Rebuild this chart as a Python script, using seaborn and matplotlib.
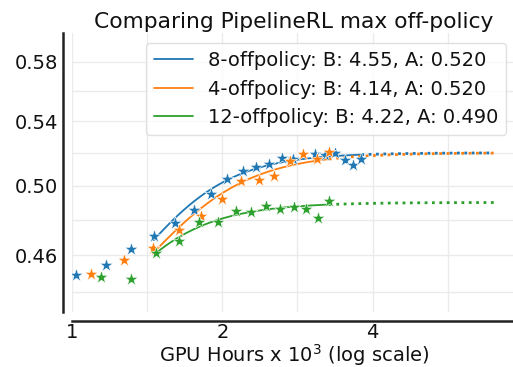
import numpy as np
import pandas as pd
import matplotlib
matplotlib.use("Agg")
import matplotlib.pyplot as plt
from matplotlib.ticker import FixedLocator, FixedFormatter, NullFormatter
import seaborn as sns

# Measured runs: GPU hours (x 10^3) and mean reward
x_8 = [1.020, 1.168, 1.315, 1.457, 1.605, 1.752, 1.898, 2.047, 2.197, 2.340,
       2.480, 2.633, 2.771, 3.061, 3.206, 3.357, 3.515, 3.653, 3.797]
y_8 = [0.4492, 0.4549, 0.4637, 0.4708, 0.4781, 0.4855, 0.4952, 0.5039, 0.5090, 0.5112,
       0.5131, 0.5166, 0.5162, 0.5194, 0.5187, 0.5199, 0.5153, 0.5126, 0.5164]

x_4 = [1.090, 1.271, 1.451, 1.635, 1.813, 1.998, 2.183, 2.368, 2.542, 2.728,
       2.901, 3.095, 3.271]
y_4 = [0.4499, 0.4575, 0.4639, 0.4743, 0.4822, 0.4918, 0.5025, 0.5035, 0.5055, 0.5151,
       0.5192, 0.5161, 0.5203]

x_12 = [1.145, 1.311, 1.471, 1.635, 1.796, 1.960, 2.127, 2.286, 2.450, 2.613,
        2.779, 2.937, 3.109, 3.271]
y_12 = [0.4481, 0.4472, 0.4613, 0.4679, 0.4787, 0.4785, 0.4848, 0.4844, 0.4878, 0.4864,
        0.4872, 0.4862, 0.4810, 0.4910]

# Sigmoidal fit parameters: R(C) = R0 + (A - R0) / (1 + (C_mid / C)^B)
run_names = ["8-offpolicy", "4-offpolicy", "12-offpolicy"]
fit_B = [4.55, 4.14, 4.22]
fit_A = [0.520, 0.520, 0.490]
fit_R0 = [0.40, 0.40, 0.35]
fit_Cmid = [1.37, 1.44, 1.07]
fit_start = [3, 2, 2]          # first point used in the fit
extrap_to = 7.0                 # extrapolate fits out to this compute

colors = ["#1f77b4", "#ff7f0e", "#2ca02c"]

y_major = [0.46, 0.50, 0.54, 0.58]
y_minor = [0.44, 0.48, 0.52, 0.56]
x_major = [1, 2, 4]
x_minor = [2 ** 0.5, 2 ** 1.5, 2 ** 2.5]

sns.set_style("whitegrid", {
    "axes.edgecolor": "#222222",
    "grid.color": "#ebebeb",
    "text.color": "#111111",
    "xtick.color": "#111111",
    "ytick.color": "#111111",
    "axes.labelcolor": "#111111",
})
plt.rcParams["font.family"] = ["DejaVu Sans"]

fig = plt.figure(figsize=(5.13, 3.67), dpi=100)
ax = fig.add_axes([0.1404, 0.1512, 0.8655, 0.758])


def sigmoid(c, A, B, R0, Cm):
    return R0 + (A - R0) / (1.0 + (Cm / c) ** B)


series = [(x_8, y_8), (x_4, y_4), (x_12, y_12)]
for i, (xs, ys) in enumerate(series):
    df = pd.DataFrame({"gpu_hours": xs, "reward": ys})
    sns.scatterplot(data=df, x="gpu_hours", y="reward", marker="*", s=100,
                    color=colors[i], edgecolor="white", linewidth=0.4,
                    ax=ax, zorder=3)

for i, (xs, ys) in enumerate(series):
    c_fit = np.geomspace(xs[fit_start[i]], xs[-1], 200)
    c_ext = np.geomspace(xs[-1], extrap_to, 100)
    label = f"{run_names[i]}: B: {fit_B[i]:.2f}, A: {fit_A[i]:.3f}"
    sns.lineplot(x=c_fit, y=sigmoid(c_fit, fit_A[i], fit_B[i], fit_R0[i], fit_Cmid[i]),
                 color=colors[i], lw=1.3, label=label, ax=ax, zorder=2)
    sns.lineplot(x=c_ext, y=sigmoid(c_ext, fit_A[i], fit_B[i], fit_R0[i], fit_Cmid[i]),
                 color=colors[i], lw=2.0, linestyle=":", ax=ax, zorder=2)

ax.set_xscale("log")
ax.set_yscale("log")
ax.set_xlim(1.0, 7.75)
ax.set_ylim(0.43, 0.60)

ax.xaxis.set_major_locator(FixedLocator(x_major))
ax.xaxis.set_major_formatter(FixedFormatter([str(v) for v in x_major]))
ax.xaxis.set_minor_locator(FixedLocator(x_minor))
ax.xaxis.set_minor_formatter(NullFormatter())
ax.yaxis.set_major_locator(FixedLocator(y_major))
ax.yaxis.set_major_formatter(FixedFormatter([f"{v:.2f}" for v in y_major]))
ax.yaxis.set_minor_locator(FixedLocator(y_minor))
ax.yaxis.set_minor_formatter(NullFormatter())

ax.grid(True, which="both", color="#ebebeb", lw=1.0)
ax.tick_params(axis="both", which="both", length=0, labelsize=14)
ax.tick_params(axis="x", which="major", pad=1.5)

ax.set_xlabel("GPU Hours x $10^3$ (log scale)", fontsize=14, labelpad=0.0)
ax.set_ylabel("")
ax.set_title("Comparing PipelineRL max off-policy", fontsize=15.7, pad=3.5)

ax.legend(loc="upper right", fontsize=14, frameon=True, edgecolor="#d9d9d9")
sns.despine(ax=ax, offset=6.5)
for side in ("left", "bottom"):
    ax.spines[side].set_linewidth(1.8)
    ax.spines[side].set_color("#222222")

fig.savefig("out.png", dpi=100)
